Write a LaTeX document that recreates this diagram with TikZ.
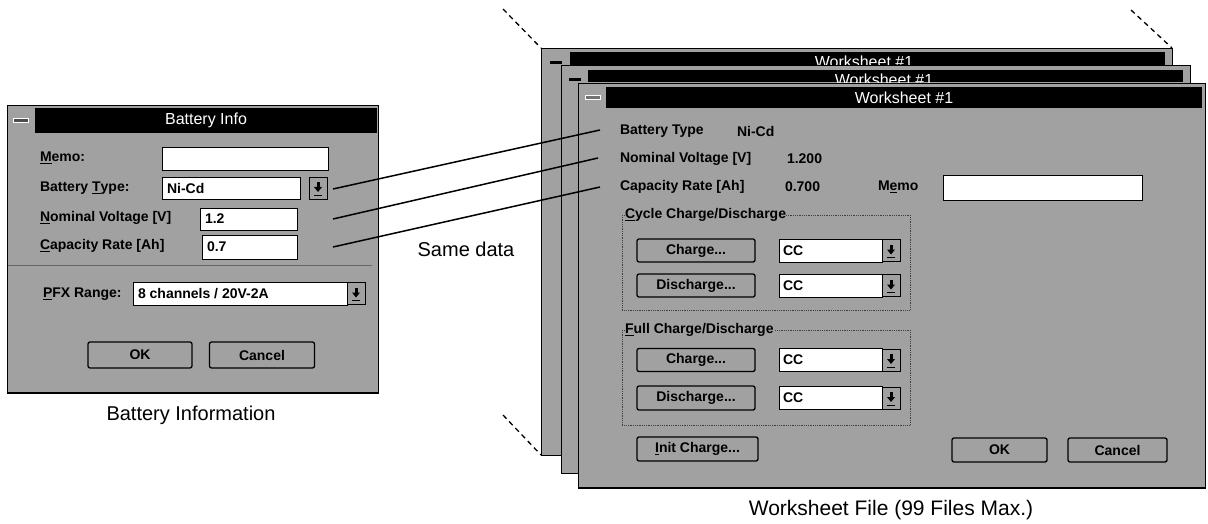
\documentclass[tikz,border=0pt]{standalone}
\usepackage{fontspec}
\setmainfont{Liberation Sans}
\definecolor{dgray}{gray}{0.63}
\begin{document}
\begin{tikzpicture}[x=1pt,y=-1pt,
  every node/.style={inner sep=0pt, outer sep=0pt},
  panel/.style={draw=black, line width=0.8pt, fill=dgray, anchor=north west},
  bar/.style={fill=black, anchor=north west},
  ttl/.style={text=white, font=\fontsize{16}{18}\selectfont},
  lbl/.style={anchor=west, font=\bfseries\fontsize{14}{16}\selectfont},
  val/.style={anchor=west, font=\bfseries\fontsize{14}{16}\selectfont},
  fld/.style={draw=black, line width=0.8pt, fill=white, anchor=north west},
  btn/.style={draw=black, line width=1.3pt, rounded corners=2pt, fill=dgray, font=\bfseries\fontsize{14}{16}\selectfont},
  closebox/.style={fill=dgray, anchor=north west},
  grp/.style={draw=black!75, densely dotted, line width=0.8pt},
  conn/.style={draw=black, line width=1.5pt},
  guide/.style={draw=black, line width=1.3pt, dash pattern=on 5pt off 4pt},
  captxt/.style={font=\fontsize{20}{24}\selectfont},
  ddbtn/.pic={
    \draw[fill=dgray, line width=0.8pt] (-9,-11) rectangle (9,11);
    \fill (-4,-1) -- (4,-1) -- (0,4) -- cycle;
    \fill (-1.5,-6) rectangle (1.5,-1);
    \draw[line width=1pt] (-4,7) -- (4,7);
  }]
\useasboundingbox (0,0) rectangle (1208,524);

% ---------------- Battery Info dialog ----------------
\node[panel, minimum width=371pt, minimum height=288pt] (bdlg) at (7,105) {};
\draw[line width=1.5pt] (bdlg.south west) -- (bdlg.south east);
\node[bar, minimum width=342pt, minimum height=25pt] (btitle) at (35,108) {};
\node[ttl] (bttl) at (btitle.center) {Battery Info};
\node[closebox, minimum width=26pt, minimum height=25pt] (bclose) at (8,108) {};
\node[fill=black!70, draw=white, line width=0.6pt, minimum width=15pt, minimum height=4pt] (bcloseb) at (bclose.center) {};

\node[lbl] (lmemo) at (40,158) {\underline{M}emo:};
\node[fld, minimum width=166pt, minimum height=23pt] (fmemo) at (162,147) {};

\node[lbl] (lbt) at (40,188) {Battery \underline{T}ype:};
\node[fld, minimum width=138pt, minimum height=22pt] (fbt) at (162,177) {};
\node[val] (vbt) at ([xshift=5pt]fbt.west) {Ni-Cd};
\pic at (318,188) {ddbtn};

\node[lbl] (lnv) at (40,218) {\underline{N}ominal Voltage [V]};
\node[fld, minimum width=97pt, minimum height=22pt] (fnv) at (200,208) {};
\node[val] (vnv) at ([xshift=5pt]fnv.west) {1.2};

\node[lbl] (lcr) at (40,246) {\underline{C}apacity Rate [Ah]};
\node[fld, minimum width=95pt, minimum height=24pt] (fcr) at (202,235) {};
\node[val] (vcr) at ([xshift=5pt]fcr.west) {0.7};

\coordinate (sepl) at (8,265);
\coordinate (sepr) at (372,265);
\draw[black!60, line width=1pt] (sepl) -- (sepr);

\node[lbl] (lpfx) at (43,294) {\underline{P}FX Range:};
\node[fld, minimum width=214pt, minimum height=23pt] (fpfx) at (133,282) {};
\node[val] (vpfx) at ([xshift=5pt]fpfx.west) {8 channels / 20V-2A};
\pic at (356,293.5) {ddbtn};

\node[btn, minimum width=104pt, minimum height=26pt] (bok) at (140,355) {OK};
\node[btn, minimum width=105pt, minimum height=26pt] (bcancel) at (262,355) {Cancel};

\node[captxt] (capb) at (191,415) {Battery Information};

% ---------------- Worksheet windows ----------------
% back
\node[panel, minimum width=631pt, minimum height=407pt] (w3) at (541,48) {};
\node[bar, minimum width=595pt, minimum height=13pt] (w3t) at (570,52) {};
\node[closebox, minimum width=20pt, minimum height=13pt] (w3c) at (546,52) {};
\node[fill=black, minimum width=12pt, minimum height=3pt] (w3cb) at ([yshift=-4pt]w3c.center) {};
\node[ttl] (w3tt) at (864,62) {Worksheet \#1};
% middle
\node[panel, minimum width=629pt, minimum height=408pt] (w2) at (561,65) {};
\node[bar, minimum width=595pt, minimum height=12pt] (w2t) at (588,70) {};
\node[closebox, minimum width=22pt, minimum height=12pt] (w2c) at (564,70) {};
\node[fill=black, minimum width=12pt, minimum height=3pt] (w2cb) at ([yshift=-4pt]w2c.center) {};
\node[ttl] (w2tt) at (884,80) {Worksheet \#1};
% front
\node[panel, minimum width=627pt, minimum height=405pt] (w1) at (578,83) {};
\draw[line width=1.5pt] (w1.south west) -- (w1.south east);
\node[bar, minimum width=596pt, minimum height=21pt] (w1t) at (606,87) {};
\node[closebox, minimum width=24pt, minimum height=21pt] (w1c) at (581,87) {};
\node[fill=black!55, draw=white, line width=0.6pt, minimum width=15pt, minimum height=4pt] (w1cb) at (w1c.center) {};
\node[ttl] (w1tt) at (w1t.center) {Worksheet \#1};

\node[lbl] (wlbt) at (620,131) {Battery Type};
\node[val] (wvbt) at (737,131) {Ni-Cd};
\node[lbl] (wlnv) at (620,159) {Nominal Voltage [V]};
\node[val] (wvnv) at (787,159) {1.200};
\node[lbl] (wlcr) at (620,187) {Capacity Rate [Ah]};
\node[val] (wvcr) at (785,187) {0.700};
\node[lbl] (wlmemo) at (878,187) {M\underline{e}mo};
\node[fld, minimum width=199pt, minimum height=25pt] (wfmemo) at (943,175) {};

% cycle group
\draw[grp] (622,215) rectangle (910,310);
\node[lbl, fill=dgray] (g1) at (625,215) {\underline{C}ycle Charge/Discharge};
\node[btn, minimum width=118pt, minimum height=23pt] (c1) at (696,250.5) {Charge...};
\node[fld, minimum width=103pt, minimum height=23pt] (cc1) at (779,239) {};
\node[val] (cc1t) at ([xshift=4pt]cc1.west) {CC};
\pic at (891,250.5) {ddbtn};
\node[btn, minimum width=118pt, minimum height=23pt] (d1) at (696,285.5) {Discharge...};
\node[fld, minimum width=103pt, minimum height=23pt] (cc2) at (779,274) {};
\node[val] (cc2t) at ([xshift=4pt]cc2.west) {CC};
\pic at (891,285.5) {ddbtn};

% full group
\draw[grp] (622,330) rectangle (910,425);
\node[lbl, fill=dgray] (g2) at (625,330) {\underline{F}ull Charge/Discharge};
\node[btn, minimum width=118pt, minimum height=23pt] (c2) at (696,360) {Charge...};
\node[fld, minimum width=103pt, minimum height=23pt] (cc3) at (779,348.5) {};
\node[val] (cc3t) at ([xshift=4pt]cc3.west) {CC};
\pic at (891,360) {ddbtn};
\node[btn, minimum width=118pt, minimum height=24pt] (d2) at (696,398) {Discharge...};
\node[fld, minimum width=103pt, minimum height=23pt] (cc4) at (779,386.5) {};
\node[val] (cc4t) at ([xshift=4pt]cc4.west) {CC};
\pic at (891,398) {ddbtn};

\node[btn, minimum width=121pt, minimum height=24pt] (init) at (697.5,449) {\underline{I}nit Charge...};
\node[btn, minimum width=95pt, minimum height=24pt] (wok) at (999.5,450) {OK};
\node[btn, minimum width=99pt, minimum height=24pt] (wcancel) at (1117.5,450) {Cancel};

\node[captxt, font=\fontsize{21}{24}\selectfont] (capw) at (891,510) {Worksheet File (99 Files Max.)};

% ---------------- guides and connectors ----------------
\coordinate (g1s) at (503,9);
\coordinate (g2s) at (1131,10);
\coordinate (g3s) at (503,415);
\draw[guide] (g1s) -- (w3.north west);
\draw[guide] (g2s) -- (w3.north east);
\draw[guide] (g3s) -- (w3.south west);

\coordinate (a1) at (333,189);
\coordinate (a2) at (333,219);
\coordinate (a3) at (333,247);
\coordinate (b1) at (600,130);
\coordinate (b2) at (598,158);
\coordinate (b3) at (600,187);
\draw[conn] (a1) -- (b1);
\draw[conn] (a2) -- (b2);
\draw[conn] (a3) -- (b3);

\node[captxt] (same) at (466,249) {Same data};
\end{tikzpicture}
\end{document}
